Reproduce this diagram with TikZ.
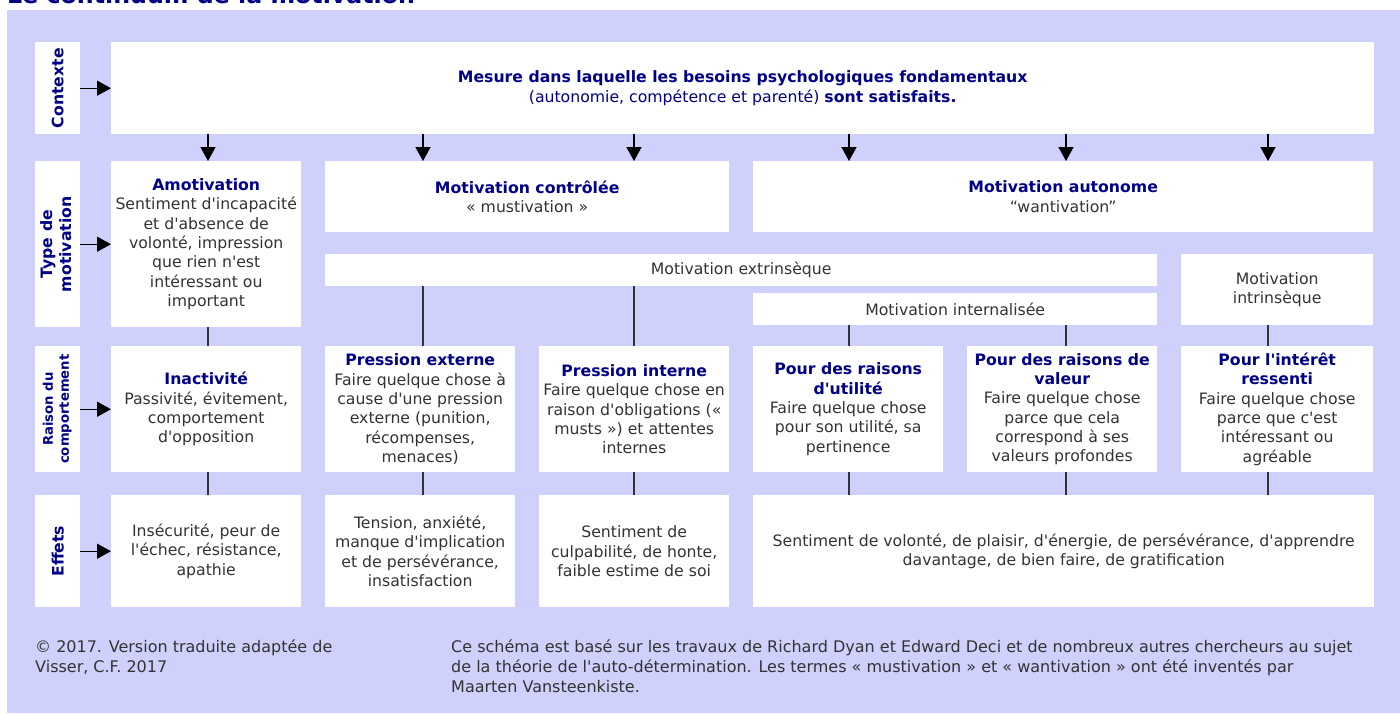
\documentclass[tikz,border=0pt]{standalone}
\usepackage{fontspec}
\setmainfont{DejaVu Sans}[Ligatures=TeXOff]
\usepackage{xcolor}
\usetikzlibrary{positioning,arrows.meta}
\definecolor{lavender}{HTML}{D0D0FD}
\definecolor{navy}{HTML}{000088}
\definecolor{ink}{HTML}{333333}
\newcommand{\hd}[1]{{\color{navy}\bfseries #1}}

\begin{document}
\begin{tikzpicture}[x=1pt, y=-1pt, inner sep=0pt,
  cell/.style={fill=white, anchor=north west, align=center, text=ink,
    font=\fontsize{15.7}{19.3}\selectfont},
  lbl/.style={fill=white, anchor=north west, minimum width=45pt, text=navy,
    font=\bfseries\fontsize{15.7}{19}\selectfont},
  tip/.style={-{Triangle[length=14pt,width=15pt]}, line width=1.4pt},
  link/.style={line width=1.2pt, draw=ink},
  foot/.style={anchor=north west, align=left, text=ink,
    font=\fontsize{16}{20}\selectfont}]
  \useasboundingbox (0,0) rectangle (1400,713);
  \fill[lavender] (7,10) rectangle (1400,713);
  \begin{scope}
    \clip (0,0) rectangle (1400,713);
    \node[anchor=base west, text=navy, font=\bfseries\fontsize{23.7}{28}\selectfont] (title) at (7,3) {Le continuum de la motivation};
  \end{scope}

  % row labels
  \node[lbl, minimum height=92pt] (lctx) at (35,42) {\rotatebox{90}{Contexte}};
  \node[lbl, minimum height=166pt] (ltype) at (35,161) {\rotatebox{90}{\begin{tabular}{@{}c@{}}Type de\\motivation\end{tabular}}};
  \node[lbl, minimum height=126pt, font=\bfseries\fontsize{13.2}{16}\selectfont] (lraison) at (35,346) {\rotatebox{90}{\begin{tabular}{@{}c@{}}Raison du\\comportement\end{tabular}}};
  \node[lbl, minimum height=112pt] (leff) at (35,495) {\rotatebox{90}{Effets}};

  % context
  \node[cell, text=navy, minimum width=1263pt, minimum height=92pt] (ctx) at (111,42)
    {\textbf{Mesure dans laquelle les besoins psychologiques fondamentaux}\\(autonomie, compétence et parenté) \textbf{sont satisfaits.}};

  % type de motivation
  \node[cell, minimum width=190pt, minimum height=166pt] (amot) at (111,161)
    {\hd{Amotivation}\\Sentiment d'incapacité\\et d'absence de\\volonté, impression\\que rien n'est\\intéressant ou\\important};
  \node[cell, minimum width=404pt, minimum height=71pt] (ctrl) at (325,161) {\hd{Motivation contrôlée}\\« mustivation »};
  \node[cell, minimum width=620pt, minimum height=71pt] (auto) at (753,161) {\hd{Motivation autonome}\\“wantivation”};
  \node[cell, minimum width=832pt, minimum height=32pt] (extr) at (325,254) {Motivation extrinsèque};
  \node[cell, minimum width=404pt, minimum height=32pt] (internal) at (753,293) {Motivation internalisée};
  \node[cell, minimum width=192pt, minimum height=71pt] (intrin) at (1181,254) {Motivation\\intrinsèque};

  % raison du comportement
  \node[cell, minimum width=190pt, minimum height=126pt] (inact) at (111,346)
    {\hd{Inactivité}\\Passivité, évitement,\\comportement\\d'opposition};
  \node[cell, minimum width=190pt, minimum height=126pt] (pext) at (325,346)
    {\hd{Pression externe}\\Faire quelque chose à\\cause d'une pression\\externe (punition,\\récompenses,\\menaces)};
  \node[cell, minimum width=190pt, minimum height=126pt] (pint) at (539,346)
    {\hd{Pression interne}\\Faire quelque chose en\\raison d'obligations («\\musts ») et attentes\\internes};
  \node[cell, minimum width=190pt, minimum height=126pt] (util) at (753,346)
    {\hd{Pour des raisons}\\\hd{d'utilité}\\Faire quelque chose\\pour son utilité, sa\\pertinence};
  \node[cell, minimum width=190pt, minimum height=126pt] (valeur) at (967,346)
    {\hd{Pour des raisons de}\\\hd{valeur}\\Faire quelque chose\\parce que cela\\correspond à ses\\valeurs profondes};
  \node[cell, minimum width=192pt, minimum height=126pt] (ressenti) at (1181,346)
    {\hd{Pour l'intérêt}\\\hd{ressenti}\\Faire quelque chose\\parce que c'est\\intéressant ou\\agréable};

  % effets
  \node[cell, minimum width=190pt, minimum height=112pt] (effA) at (111,495)
    {Insécurité, peur de\\l'échec, résistance,\\apathie};
  \node[cell, minimum width=190pt, minimum height=112pt] (effB) at (325,495)
    {Tension, anxiété,\\manque d'implication\\et de persévérance,\\insatisfaction};
  \node[cell, minimum width=190pt, minimum height=112pt] (effC) at (539,495)
    {Sentiment de\\culpabilité, de honte,\\faible estime de soi};
  \node[cell, minimum width=621pt, minimum height=112pt] (effD) at (753,495)
    {Sentiment de volonté, de plaisir, d'énergie, de persévérance, d'apprendre\\davantage, de bien faire, de gratification};

  % connectors
  \foreach \n/\x in {xA/208, xB/423, xC/634, xD/849, xE/1066, xF/1268}
    \coordinate (\n) at (\x,0);
  \foreach \l/\b in {lctx/ctx, ltype/amot, lraison/inact, leff/effA}
    \draw[tip] (\l.east) -- (\b.west |- \l.east);
  \foreach \c/\t in {xA/amot, xB/ctrl, xC/ctrl, xD/auto, xE/auto, xF/auto}
    \draw[tip] (ctx.south -| \c) -- (\t.north -| \c);
  \foreach \c/\s/\t in {xA/amot/inact, xB/extr/pext, xC/extr/pint, xD/internal/util, xE/internal/valeur, xF/intrin/ressenti}
    \draw[link] (\s.south -| \c) -- (\t.north -| \c);
  \foreach \c/\s/\t in {xA/inact/effA, xB/pext/effB, xC/pint/effC, xD/util/effD, xE/valeur/effD, xF/ressenti/effD}
    \draw[link] (\s.south -| \c) -- (\t.north -| \c);

  % footer
  \node[foot] (credit) at (35,639) {© 2017. Version traduite adaptée de\\Visser, C.F. 2017};
  \node[foot] (note) at (451,639) {Ce schéma est basé sur les travaux de Richard Dyan et Edward Deci et de nombreux autres chercheurs au sujet\\de la théorie de l'auto-détermination. Les termes « mustivation » et « wantivation » ont été inventés par\\Maarten Vansteenkiste.};
\end{tikzpicture}
\end{document}
